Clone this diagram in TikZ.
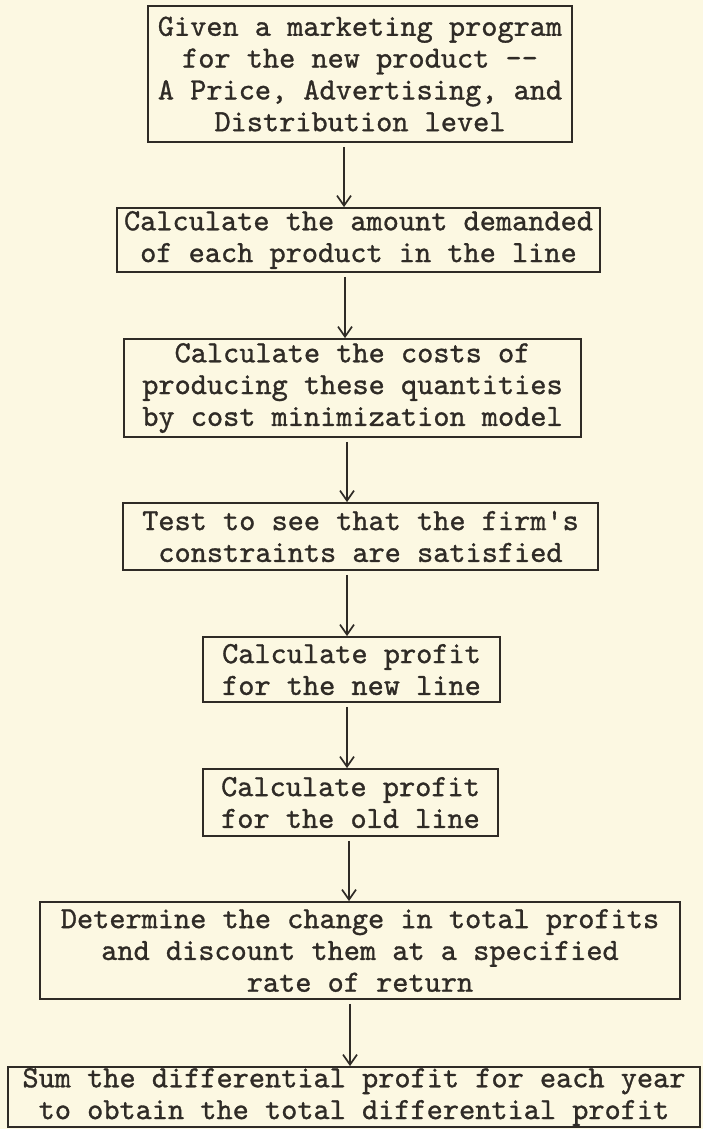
\documentclass[tikz,border=0pt]{standalone}
\usepackage{fontspec}
\setmonofont{lmmono10-regular}[Extension=.otf,FakeBold=1.0]
\usetikzlibrary{arrows.meta}
\definecolor{ink}{HTML}{2F2B26}
\definecolor{paper}{HTML}{FCF8E2}
\tikzset{stepbox/.style={draw=ink,line width=1.8pt,inner sep=0pt,align=center,text=ink,
  font=\ttfamily\fontsize{30.8pt}{31.8pt}\selectfont},
  flow/.style={draw=ink,line width=1.7pt,-{Straight Barb[length=10pt,width=14pt]},shorten <=4pt}}

\begin{document}
\begin{tikzpicture}[x=1pt,y=-1pt]
\path[use as bounding box,fill=paper] (0,0) rectangle (703,1129);
% steps of the procedure
\node[stepbox,minimum width=424pt,minimum height=136pt] (given) at (360,74)
 {Given a marketing program\\for the new product -{}-\\A Price, Advertising, and\\Distribution level};
\node[stepbox,minimum width=483pt,minimum height=64pt] (demand) at (358.5,240)
 {Calculate the amount demanded\\of each product in the line};
\node[stepbox,minimum width=457pt,minimum height=98pt] (costs) at (352.5,388)
 {Calculate the costs of\\producing these quantities\\by cost minimization model};
\node[stepbox,minimum width=475pt,minimum height=67pt] (test) at (360.5,536.5)
 {Test to see that the firm's\\constraints are satisfied};
\node[stepbox,minimum width=297pt,minimum height=65pt] (newline) at (351.5,669.5)
 {Calculate profit\\for the new line};
\node[stepbox,minimum width=295pt,minimum height=67pt] (oldline) at (350.5,802.5)
 {Calculate profit\\for the old line};
\node[stepbox,minimum width=640pt,minimum height=97pt] (discount) at (360,950.5)
 {Determine the change in total profits\\and discount them at a specified\\rate of return};
\node[stepbox,minimum width=692pt,minimum height=60pt] (sum) at (354,1097)
 {Sum the differential profit for each year\\to obtain the total differential profit};
% arrows between the steps
\foreach \a/\b/\x in {given/demand/344,demand/costs/345,costs/test/347,test/newline/347,
  newline/oldline/347,oldline/discount/349,discount/sum/350}
 \draw[flow] (\a.south -| \x,0) -- (\b.north -| \x,0);
\end{tikzpicture}
\end{document}
